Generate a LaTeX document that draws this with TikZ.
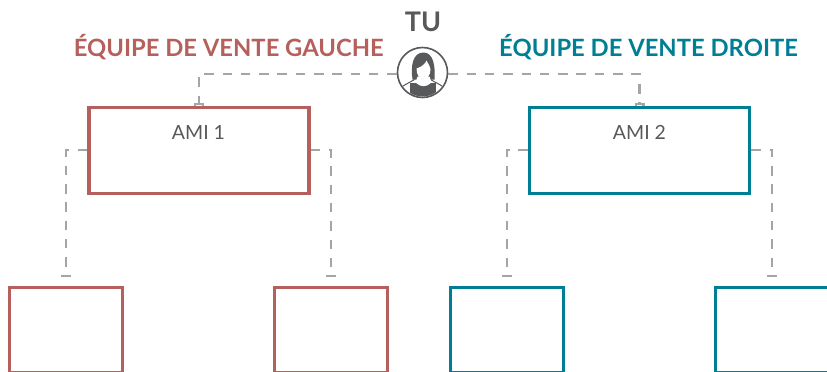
\documentclass[tikz,border=0pt]{standalone}
\usepackage{fontspec}
\setmainfont{Lato}
\usetikzlibrary{positioning,arrows.meta,calc}
\definecolor{venterouge}{HTML}{B5605C}
\definecolor{ventebleu}{HTML}{007E94}
\definecolor{lien}{HTML}{A5A5A8}
\definecolor{texte}{HTML}{58595B}
\tikzset{ami/.style={draw, line width=3.4pt, minimum width=220pt, minimum height=86pt, inner sep=0pt}}
\tikzset{filleul/.style={draw, line width=3.4pt, minimum width=113pt, minimum height=85pt, inner sep=0pt}}
\tikzset{equipe/.style={font=\fontsize{23.8}{26}\selectfont\bfseries, inner sep=0pt}}
\tikzset{amitxt/.style={text=texte, font=\fontsize{19.5}{22}\selectfont, inner sep=0pt}}
\tikzset{lien/.style={draw=lien, line width=2.4pt, dash pattern=on 9.5pt off 8.8pt}}
\tikzset{lienb/.style={lien, -{Bar[width=10pt,length=2.4pt,line width=2.2pt,sep=0pt]}}}
\begin{document}
\begin{tikzpicture}[x=1pt,y=-1pt]
	\clip (0,0) rectangle (827,372);
	\node[ami, draw=venterouge] (ami1) at (198.8,150.2) {};
	\node[ami, draw=ventebleu] (ami2) at (639.5,150.2) {};
	\node[filleul, draw=venterouge] (g1) at (66,330) {};
	\node[filleul, draw=venterouge] (g2) at (331,330) {};
	\node[filleul, draw=ventebleu] (d1) at (507,330) {};
	\node[filleul, draw=ventebleu] (d2) at (772,330) {};
	\node[amitxt] (ami1txt) at (198.5,132.5) {AMI 1};
	\node[amitxt] (ami2txt) at (639.5,132.5) {AMI 2};
	\node[circle, draw=texte, fill=white, line width=1.6pt, minimum size=50pt, inner sep=0pt] (tu) at (422.5,72.5) {};
	\node[text=texte, font=\fontsize{27}{30}\selectfont\bfseries, inner sep=0pt] (tutxt) at (423,22) {TU};
	\node[equipe, text=venterouge, anchor=east] (eqg) at (384,47) {ÉQUIPE DE VENTE GAUCHE};
	\node[equipe, text=ventebleu, anchor=west] (eqd) at (499,47) {ÉQUIPE DE VENTE DROITE};
%
	% le portrait
	\begin{scope}
		\clip (tu) circle (24pt);
		\fill[texte] ($(tu)+(-13,26)$) -- ($(tu)+(-13,10)$) -- ($(tu)+(13,10)$) -- ($(tu)+(13,26)$) -- cycle;
		\draw[texte, line width=1pt] ($(tu)+(-26,20)$) .. controls ($(tu)+(-20,12)$) and ($(tu)+(-14,11)$) .. ($(tu)+(-8,7)$);
		\draw[texte, line width=1pt] ($(tu)+(26,20)$) .. controls ($(tu)+(20,12)$) and ($(tu)+(14,11)$) .. ($(tu)+(8,7)$);
		\fill[texte] ($(tu)+(-10,7)$) .. controls ($(tu)+(-12,-6)$) and ($(tu)+(-10,-20)$) .. ($(tu)+(1,-20)$)
			.. controls ($(tu)+(11,-20)$) and ($(tu)+(13,-6)$) .. ($(tu)+(12,7)$) -- cycle;
		\fill[white] ($(tu)+(-6,-4)$) .. controls ($(tu)+(0,-6)$) and ($(tu)+(3,-9)$) .. ($(tu)+(4,-12)$)
			.. controls ($(tu)+(6,-8)$) and ($(tu)+(8,-6)$) .. ($(tu)+(8,-3)$)
			.. controls ($(tu)+(8,3)$) and ($(tu)+(4,7)$) .. ($(tu)+(1,7)$)
			.. controls ($(tu)+(-3,7)$) and ($(tu)+(-6,2)$) .. cycle;
		\fill[white] ($(tu)+(-5,4)$) -- ($(tu)+(7,4)$) -- ($(tu)+(9,10)$) .. controls ($(tu)+(4,15)$) and ($(tu)+(-2,15)$) .. ($(tu)+(-7,10)$) -- cycle;
	\end{scope}
%
	% les liens
	\draw[lienb] ([yshift=-1.5pt]tu.west) -| (ami1.north);
	\draw[lienb] ([yshift=-1.5pt]tu.east) -| (ami2.north);
	\coordinate (g1h) at ($(g1.north)+(0,-8.5)$);
	\coordinate (g2h) at ($(g2.north)+(0,-8.5)$);
	\coordinate (d1h) at ($(d1.north)+(0,-8.5)$);
	\coordinate (d2h) at ($(d2.north)+(0,-8.5)$);
	\draw[lienb] (ami1.west) -| (g1h);
	\draw[lienb] (ami1.east) -| (g2h);
	\draw[lienb] (ami2.west) -| (d1h);
	\draw[lienb] (ami2.east) -| (d2h);
\end{tikzpicture}
\end{document}
